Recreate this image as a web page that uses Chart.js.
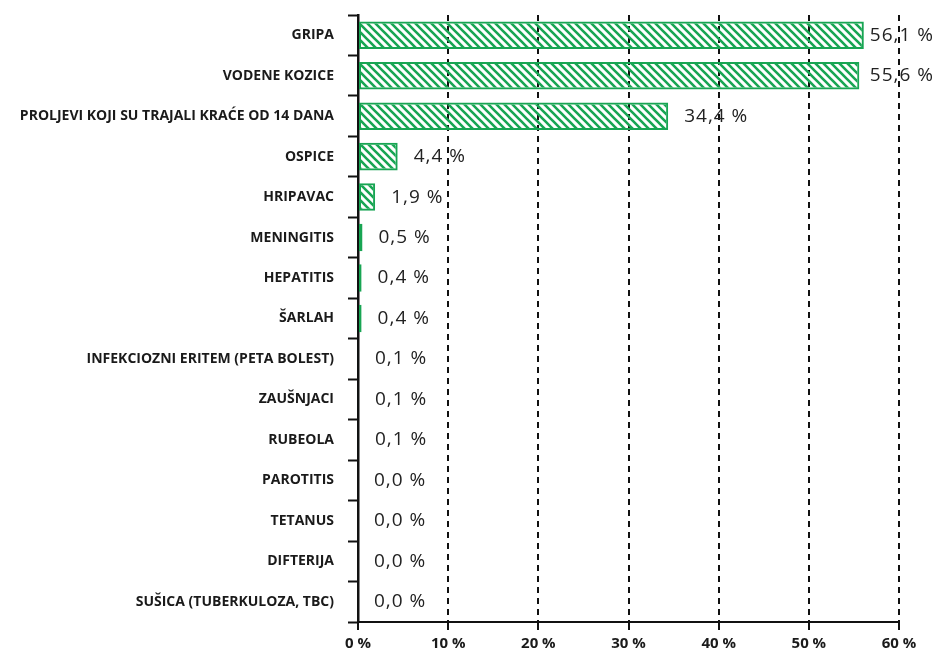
<!DOCTYPE html>
<html>
<head>
<meta charset="utf-8">
<script src="https://cdn.jsdelivr.net/npm/chart.js@4"></script>
<style>
  html, body { margin: 0; padding: 0; background: #fff; }
  #wrap { width: 936px; height: 658px; position: relative; }
</style>
</head>
<body>
<div id="wrap"><canvas id="chart"></canvas></div>
<script>
const categories = [
  'GRIPA',
  'VODENE KOZICE',
  'PROLJEVI KOJI SU TRAJALI KRAĆE OD 14 DANA',
  'OSPICE',
  'HRIPAVAC',
  'MENINGITIS',
  'HEPATITIS',
  'ŠARLAH',
  'INFEKCIOZNI ERITEM (PETA BOLEST)',
  'ZAUŠNJACI',
  'RUBEOLA',
  'PAROTITIS',
  'TETANUS',
  'DIFTERIJA',
  'SUŠICA (TUBERKULOZA, TBC)'
];
const values = [56.1, 55.6, 34.4, 4.4, 1.9, 0.5, 0.4, 0.4, 0.1, 0.1, 0.1, 0.0, 0.0, 0.0, 0.0];
const xMax = 60;
const xStep = 10;

const green = '#18a553';

// diagonal "\" hatch fill
function makeHatch() {
  const tile = document.createElement('canvas');
  tile.width = 8;
  tile.height = 8;
  const g = tile.getContext('2d');
  g.strokeStyle = green;
  g.lineWidth = 2.6;
  g.beginPath();
  g.moveTo(-2, -2); g.lineTo(10, 10);
  g.moveTo(6, -2); g.lineTo(10, 2);
  g.moveTo(-2, 6); g.lineTo(2, 10);
  g.stroke();
  return g.createPattern(tile, 'repeat');
}

const fmt = v => v.toFixed(1).replace('.', ',') + ' %';

const valueLabels = {
  id: 'valueLabels',
  afterDatasetsDraw(chart) {
    const ctx = chart.ctx;
    const meta = chart.getDatasetMeta(0);
    const x0 = chart.scales.x.getPixelForValue(0);
    ctx.save();
    ctx.font = '19px "Open Sans"';
    ctx.letterSpacing = '1px';
    ctx.fillStyle = '#222';
    ctx.textBaseline = 'middle';
    ctx.textAlign = 'left';
    meta.data.forEach((bar, i) => {
      const txt = fmt(values[i]);
      const w = ctx.measureText(txt).width;
      let x = Math.max(bar.x, x0) + 16;
      if (x + w > chart.width - 2) x = chart.width - 2 - w;
      ctx.fillText(txt, x, bar.y);
    });
    ctx.restore();
  }
};

new Chart(document.getElementById('chart'), {
  type: 'bar',
  data: {
    labels: categories,
    datasets: [{
      data: values,
      backgroundColor: makeHatch(),
      borderColor: green,
      borderWidth: 2,
      borderSkipped: false,
      barPercentage: 0.68,
      categoryPercentage: 1
    }]
  },
  options: {
    indexAxis: 'y',
    responsive: true,
    maintainAspectRatio: false,
    animation: false,
    layout: {
      padding: { top: 15, right: 37, bottom: 0, left: 0 }
    },
    plugins: {
      legend: { display: false },
      tooltip: { enabled: false }
    },
    scales: {
      x: {
        min: 0,
        max: xMax,
        afterFit: scale => { scale.height = 36; },
        ticks: {
          stepSize: xStep,
          padding: 5,
          color: '#1a1a1a',
          font: { family: 'Open Sans', size: 15, weight: 'bold' },
          callback: v => v + ' %'
        },
        grid: {
          color: c => (c.tick && c.tick.value === 0) ? 'rgba(0,0,0,0)' : '#111',
          lineWidth: 2,
          tickColor: '#111',
          tickLength: 8,
          tickWidth: 2
        },
        border: {
          display: true,
          color: '#111',
          width: 2,
          dash: [6, 5]
        }
      },
      y: {
        afterFit: scale => {
          scale.width = 358;
          scale.paddingTop = 0;
          scale.paddingBottom = 0;
        },
        ticks: {
          padding: 14,
          color: '#1a1a1a',
          font: { family: 'Open Sans', size: 14, weight: 'bold' }
        },
        grid: {
          drawOnChartArea: false,
          drawTicks: true,
          tickLength: 10,
          tickWidth: 2,
          tickColor: '#111'
        },
        border: {
          display: true,
          color: '#111',
          width: 2.5
        }
      }
    }
  },
  plugins: [valueLabels]
});
</script>
</body>
</html>
